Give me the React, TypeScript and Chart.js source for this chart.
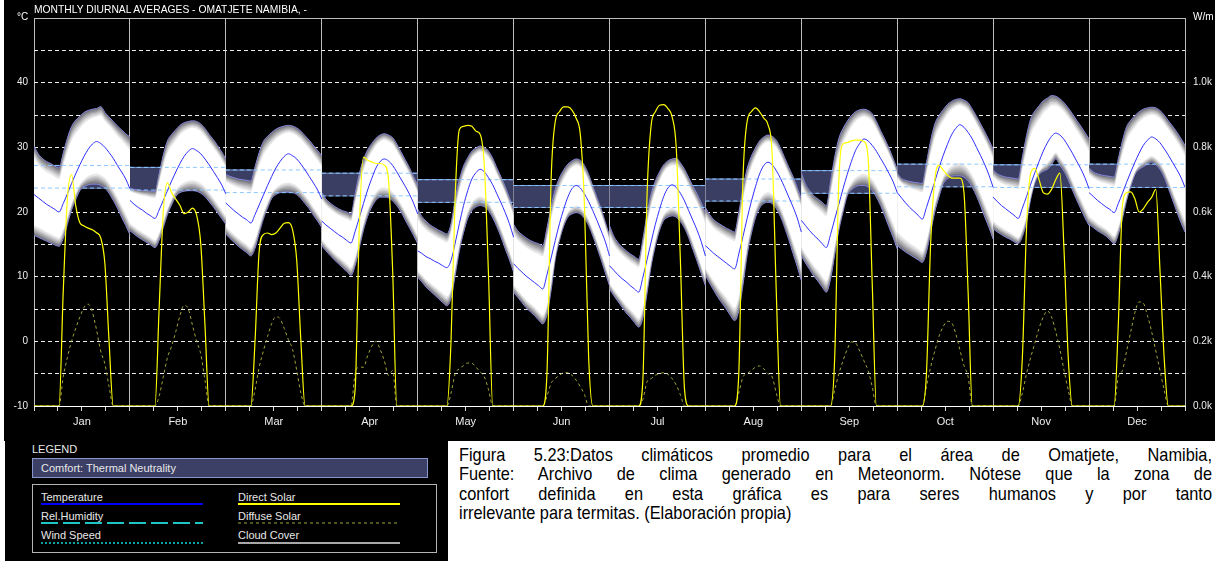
import React, { useEffect, useRef } from 'react';
import { Chart, registerables } from 'chart.js';

Chart.register(...registerables);

const MONTHS = ['Jan', 'Feb', 'Mar', 'Apr', 'May', 'Jun', 'Jul', 'Aug', 'Sep', 'Oct', 'Nov', 'Dec'];

// hourly mean temperature (°C), 24 values per month
const TEMP: number[][] = [
  [22.7, 22.2, 21.7, 21.2, 20.8, 20.4, 20.0, 21.3, 22.8, 24.4, 25.9, 27.3, 28.6, 29.7, 30.5, 30.9, 30.6, 30.0, 29.2, 28.3, 27.2, 26.2, 25.1, 23.6],
  [21.8, 21.2, 20.7, 20.3, 19.8, 19.4, 19.0, 20.3, 21.8, 23.3, 24.8, 26.2, 27.5, 28.6, 29.4, 29.8, 29.5, 29.0, 28.2, 27.3, 26.3, 25.3, 24.2, 22.8],
  [21.4, 20.8, 20.2, 19.7, 19.2, 18.8, 18.3, 19.6, 21.1, 22.6, 24.1, 25.5, 26.8, 27.8, 28.6, 29.0, 28.7, 28.2, 27.4, 26.5, 25.5, 24.5, 23.4, 22.0],
  [18.6, 18.0, 17.5, 17.0, 16.5, 16.1, 15.6, 15.2, 17.0, 19.1, 21.3, 23.4, 25.2, 26.8, 27.8, 28.2, 27.9, 27.2, 26.2, 25.1, 24.0, 22.8, 21.4, 19.7],
  [14.0, 13.6, 13.1, 12.8, 12.4, 12.1, 11.7, 11.4, 12.5, 15.2, 18.2, 21.0, 23.3, 25.1, 26.1, 26.6, 26.2, 25.3, 24.2, 22.8, 21.4, 19.9, 18.2, 16.1],
  [12.0, 11.3, 10.7, 10.1, 9.6, 9.1, 8.6, 8.1, 10.3, 12.9, 15.6, 18.2, 20.4, 22.3, 23.6, 24.1, 23.7, 22.8, 21.6, 20.2, 18.7, 17.1, 15.4, 13.2],
  [11.7, 11.0, 10.3, 9.7, 9.2, 8.6, 8.1, 7.6, 9.9, 12.6, 15.4, 18.1, 20.4, 22.4, 23.7, 24.2, 23.8, 22.9, 21.7, 20.2, 18.7, 17.2, 15.4, 13.2],
  [14.8, 14.2, 13.6, 13.1, 12.6, 12.1, 11.6, 11.2, 13.5, 16.2, 19.0, 21.6, 23.9, 25.9, 27.2, 27.7, 27.3, 26.4, 25.2, 23.8, 22.3, 20.8, 19.1, 16.9],
  [18.7, 17.9, 17.1, 16.4, 15.8, 15.1, 14.5, 16.5, 18.9, 21.2, 23.6, 25.8, 27.8, 29.5, 30.6, 31.3, 31.0, 30.3, 29.4, 28.3, 27.2, 26.0, 24.7, 23.0],
  [23.0, 22.2, 21.4, 20.7, 20.1, 19.5, 18.9, 20.7, 22.7, 24.7, 26.8, 28.7, 30.4, 31.9, 32.9, 33.5, 33.1, 32.3, 31.3, 30.0, 28.7, 27.3, 25.7, 23.8],
  [22.3, 21.6, 21.0, 20.5, 20.0, 19.5, 19.0, 20.6, 22.4, 24.3, 26.1, 27.8, 29.4, 30.7, 31.7, 32.2, 31.9, 31.2, 30.2, 29.1, 27.9, 26.7, 25.3, 23.6],
  [23.0, 22.4, 21.8, 21.3, 20.8, 20.4, 19.9, 21.3, 22.9, 24.6, 26.2, 27.7, 29.1, 30.3, 31.1, 31.6, 31.3, 30.7, 29.8, 28.8, 27.7, 26.6, 25.4, 23.8],
];

// upper edge of the shaded temperature range (°C)
const TEMP_MAX: number[][] = [
  [30.2, 29.0, 28.3, 27.8, 27.5, 27.1, 26.8, 29.1, 31.4, 33.2, 34.2, 34.8, 35.4, 35.7, 35.9, 36.0, 36.3, 35.4, 34.7, 34.0, 33.3, 32.7, 32.1, 31.6],
  [23.7, 23.5, 23.4, 23.3, 23.3, 23.2, 23.2, 25.9, 28.8, 31.0, 32.0, 32.7, 33.4, 33.8, 34.0, 34.1, 34.0, 33.6, 32.9, 32.0, 31.2, 30.3, 29.3, 28.2],
  [25.8, 25.5, 25.3, 25.1, 25.0, 24.9, 24.8, 27.0, 29.2, 30.9, 31.7, 32.3, 32.8, 33.1, 33.3, 33.4, 33.3, 33.0, 32.5, 31.8, 31.1, 30.3, 29.5, 28.7],
  [23.0, 22.0, 21.4, 20.9, 20.5, 20.2, 20.0, 19.7, 22.8, 25.9, 28.1, 29.6, 30.6, 31.4, 31.9, 32.1, 31.9, 31.5, 30.5, 29.3, 28.1, 26.9, 25.5, 24.1],
  [20.5, 19.3, 18.6, 18.0, 17.6, 17.2, 16.9, 16.6, 18.2, 22.0, 25.0, 27.1, 28.4, 29.4, 29.9, 30.2, 30.0, 29.4, 28.3, 26.8, 25.4, 23.9, 22.2, 20.5],
  [18.1, 17.1, 16.5, 16.0, 15.6, 15.3, 15.1, 14.8, 17.5, 20.8, 23.5, 25.3, 26.5, 27.4, 27.9, 28.2, 28.0, 27.2, 25.8, 24.0, 22.2, 20.5, 18.4, 16.3],
  [17.9, 16.3, 15.3, 14.6, 14.0, 13.5, 13.1, 12.7, 15.8, 19.7, 22.8, 24.8, 26.2, 27.3, 27.9, 28.2, 28.3, 27.6, 26.6, 25.3, 24.0, 22.8, 21.4, 19.9],
  [20.7, 19.6, 18.8, 18.3, 17.9, 17.5, 17.2, 16.9, 19.9, 23.6, 26.7, 28.6, 29.9, 31.0, 31.6, 31.9, 31.7, 31.1, 29.9, 28.4, 26.9, 25.5, 23.8, 22.0],
  [26.1, 24.3, 23.3, 22.5, 22.0, 21.5, 21.0, 24.7, 28.5, 31.4, 32.9, 34.0, 34.9, 35.5, 35.8, 35.9, 35.7, 35.2, 34.0, 32.6, 31.3, 29.9, 28.3, 26.6],
  [26.0, 25.2, 24.9, 24.7, 24.6, 24.5, 24.4, 27.6, 31.0, 33.6, 34.9, 35.8, 36.6, 37.1, 37.4, 37.5, 37.3, 36.9, 35.9, 34.8, 33.6, 32.4, 31.1, 29.7],
  [26.5, 25.9, 25.6, 25.4, 25.3, 25.2, 25.1, 28.5, 31.8, 34.4, 35.6, 36.4, 37.2, 37.6, 38.0, 37.9, 37.5, 36.9, 36.1, 35.2, 34.2, 33.3, 32.3, 31.3],
  [26.8, 26.2, 25.9, 25.7, 25.6, 25.5, 25.4, 28.2, 31.0, 33.2, 34.2, 34.9, 35.5, 35.9, 36.1, 36.2, 36.1, 35.7, 35.0, 34.1, 33.3, 32.4, 31.4, 30.3],
];

// lower edge of the shaded temperature range (°C)
const TEMP_MIN: number[][] = [
  [16.4, 16.1, 15.8, 15.5, 15.2, 14.9, 14.7, 15.9, 18.1, 20.3, 21.9, 23.3, 23.9, 24.2, 24.3, 24.3, 24.1, 23.7, 22.9, 21.8, 20.6, 19.2, 17.9, 16.5],
  [17.1, 16.6, 16.1, 15.7, 15.3, 14.9, 14.5, 15.6, 17.6, 19.6, 21.1, 22.4, 23.0, 23.2, 23.3, 23.3, 23.2, 22.9, 22.4, 21.6, 20.8, 19.9, 19.0, 18.1],
  [16.6, 15.9, 15.3, 14.7, 14.2, 13.7, 13.2, 14.4, 16.7, 18.9, 20.6, 22.1, 22.7, 23.0, 23.1, 23.1, 23.0, 22.7, 22.1, 21.3, 20.5, 19.5, 18.6, 17.6],
  [14.8, 14.0, 13.3, 12.6, 12.0, 11.4, 10.8, 10.2, 11.7, 14.4, 17.2, 19.3, 20.8, 21.8, 22.3, 22.3, 22.2, 21.7, 21.0, 20.0, 18.8, 17.6, 16.4, 15.1],
  [9.9, 9.2, 8.4, 7.8, 7.2, 6.6, 6.0, 5.5, 6.7, 10.2, 14.0, 16.8, 19.0, 20.2, 20.8, 21.0, 20.8, 20.2, 19.1, 17.7, 16.1, 14.3, 12.6, 10.7],
  [7.6, 6.8, 6.0, 5.2, 4.6, 4.0, 3.3, 2.7, 4.1, 7.9, 12.7, 15.6, 17.8, 19.2, 19.7, 19.9, 19.7, 19.0, 17.9, 16.3, 14.5, 12.6, 10.6, 8.6],
  [8.1, 7.1, 6.2, 5.3, 4.4, 3.7, 2.9, 2.2, 3.6, 7.4, 11.7, 14.8, 17.2, 18.7, 19.2, 19.4, 19.2, 18.5, 17.5, 16.0, 14.2, 12.4, 10.5, 8.6],
  [10.2, 9.0, 7.9, 6.8, 5.9, 5.0, 4.0, 3.2, 4.7, 8.7, 13.3, 16.6, 19.1, 20.6, 21.3, 21.5, 21.3, 20.5, 19.3, 17.6, 15.7, 13.6, 11.6, 9.4],
  [13.2, 12.1, 11.1, 10.1, 9.3, 8.4, 7.6, 9.6, 13.4, 17.2, 20.0, 22.5, 23.4, 23.9, 24.1, 24.1, 23.9, 23.3, 22.3, 21.0, 19.4, 17.7, 16.1, 14.3],
  [14.8, 14.3, 13.8, 13.4, 13.0, 12.6, 12.2, 13.8, 16.9, 20.0, 22.3, 24.3, 25.1, 25.5, 25.6, 25.6, 25.4, 24.8, 23.8, 22.5, 20.9, 19.2, 17.6, 15.8],
  [17.4, 16.9, 16.5, 16.1, 15.8, 15.4, 15.1, 16.2, 18.5, 22.0, 24.5, 25.8, 26.3, 26.6, 27.3, 28.2, 27.2, 26.3, 25.0, 23.4, 21.9, 20.5, 19.1, 17.9],
  [18.1, 17.6, 17.1, 16.7, 16.3, 15.7, 15.1, 16.5, 19.0, 21.8, 24.0, 25.8, 26.6, 27.0, 27.4, 27.7, 27.3, 26.6, 25.4, 23.7, 21.9, 20.1, 18.4, 16.9],
];

// comfort band (thermal neutrality), °C
const COMFORT_HIGH = [27.2, 26.9, 26.5, 26.0, 25.0, 24.1, 24.1, 25.1, 26.4, 27.4, 27.3, 27.4];
const COMFORT_LOW = [23.7, 23.4, 23.0, 22.5, 21.5, 20.7, 20.7, 21.7, 22.9, 23.9, 23.8, 23.8];

// direct solar radiation (W/m²), hourly
const DIRECT_SOLAR: number[][] = [
  [0, 0, 0, 0, 0, 0, 0, 350, 640, 716, 620, 567, 557, 550, 545, 536, 520, 440, 200, 0, 0, 0, 0, 0],
  [0, 0, 0, 0, 0, 0, 0, 300, 600, 690, 660, 640, 620, 595, 600, 612, 590, 500, 250, 0, 0, 0, 0, 0],
  [0, 0, 0, 0, 0, 0, 0, 200, 480, 530, 535, 530, 535, 550, 565, 567, 545, 450, 200, 0, 0, 0, 0, 0],
  [0, 0, 0, 0, 0, 0, 0, 0, 50, 550, 770, 760, 755, 750, 750, 745, 700, 420, 0, 0, 0, 0, 0, 0],
  [0, 0, 0, 0, 0, 0, 0, 0, 200, 650, 855, 865, 868, 865, 850, 840, 740, 400, 0, 0, 0, 0, 0, 0],
  [0, 0, 0, 0, 0, 0, 0, 0, 100, 700, 880, 910, 925, 925, 915, 890, 840, 620, 150, 0, 0, 0, 0, 0],
  [0, 0, 0, 0, 0, 0, 0, 0, 80, 650, 870, 910, 930, 932, 920, 895, 800, 450, 50, 0, 0, 0, 0, 0],
  [0, 0, 0, 0, 0, 0, 0, 0, 100, 700, 880, 910, 922, 910, 890, 870, 780, 350, 0, 0, 0, 0, 0, 0],
  [0, 0, 0, 0, 0, 0, 0, 0, 150, 700, 810, 815, 820, 822, 822, 818, 770, 380, 0, 0, 0, 0, 0, 0],
  [0, 0, 0, 0, 0, 0, 0, 100, 500, 700, 745, 730, 715, 705, 705, 705, 660, 350, 0, 0, 0, 0, 0, 0],
  [0, 0, 0, 0, 0, 0, 0, 150, 550, 720, 735, 700, 660, 655, 670, 700, 720, 480, 150, 0, 0, 0, 0, 0],
  [0, 0, 0, 0, 0, 0, 0, 250, 620, 660, 662, 640, 600, 610, 630, 645, 670, 420, 150, 0, 0, 0, 0, 0],
];

// diffuse solar radiation (W/m²), hourly
const DIFFUSE_SOLAR: number[][] = [
  [0, 0, 0, 0, 0, 0, 0, 90, 150, 200, 240, 275, 305, 315, 290, 235, 170, 130, 60, 0, 0, 0, 0, 0],
  [0, 0, 0, 0, 0, 0, 0, 30, 90, 150, 185, 230, 280, 312, 300, 250, 200, 160, 80, 0, 0, 0, 0, 0],
  [0, 0, 0, 0, 0, 0, 0, 50, 120, 170, 215, 255, 276, 270, 240, 205, 175, 110, 40, 0, 0, 0, 0, 0],
  [0, 0, 0, 0, 0, 0, 0, 0, 100, 120, 120, 155, 185, 200, 175, 140, 95, 110, 0, 0, 0, 0, 0, 0],
  [0, 0, 0, 0, 0, 0, 0, 0, 40, 100, 115, 125, 133, 132, 120, 105, 90, 50, 0, 0, 0, 0, 0, 0],
  [0, 0, 0, 0, 0, 0, 0, 0, 30, 70, 85, 95, 103, 103, 95, 80, 60, 35, 0, 0, 0, 0, 0, 0],
  [0, 0, 0, 0, 0, 0, 0, 0, 20, 75, 85, 95, 100, 103, 98, 85, 65, 35, 0, 0, 0, 0, 0, 0],
  [0, 0, 0, 0, 0, 0, 0, 0, 40, 90, 100, 110, 120, 124, 115, 100, 90, 40, 0, 0, 0, 0, 0, 0],
  [0, 0, 0, 0, 0, 0, 0, 0, 50, 100, 140, 175, 198, 195, 170, 140, 110, 60, 0, 0, 0, 0, 0, 0],
  [0, 0, 0, 0, 0, 0, 0, 60, 120, 170, 215, 245, 262, 258, 225, 175, 125, 90, 0, 0, 0, 0, 0, 0],
  [0, 0, 0, 0, 0, 0, 0, 40, 100, 150, 195, 240, 275, 294, 275, 230, 175, 110, 50, 0, 0, 0, 0, 0],
  [0, 0, 0, 0, 0, 0, 0, 90, 110, 170, 230, 290, 322, 318, 280, 230, 170, 110, 50, 0, 0, 0, 0, 0],
];

const TEMP_GRID = [-10, -5, 0, 5, 10, 15, 20, 25, 30, 35, 40, 45, 50];
const TEMP_LABELS = [-10, 0, 10, 20, 30, 40];
const SOLAR_GRID = [0, 100, 200, 300, 400, 500, 600, 700, 800, 900, 1000, 1100, 1200];
const SOLAR_LABELS = [0, 200, 400, 600, 800, 1000];
const HOUR_TICKS = Array.from({ length: 49 }, (_, i) => i * 6);

const FONT = "'Liberation Sans', Arial, sans-serif";

// shading of the temperature range: inset fraction toward the mean and fill colour
const BAND_SHADES = [
  { inset: 0, color: '#74747c' },
  { inset: 0.04, color: '#8c8c92' },
  { inset: 0.08, color: '#a4a4a8' },
  { inset: 0.12, color: '#bcbcbf' },
  { inset: 0.16, color: '#d3d3d5' },
  { inset: 0.2, color: '#e8e8e9' },
  { inset: 0.25, color: '#ffffff' },
];

const hourX = (m: number, h: number) => m * 24 + (h * 24) / 23;

function buildDatasets() {
  const ds: any[] = [];
  const base = { type: 'line', pointRadius: 0, pointHoverRadius: 0, yAxisID: 'y', fill: false };
  for (let m = 0; m < 12; m++) {
    const xs = TEMP[m].map((_, h) => hourX(m, h));
    // comfort zone rectangle
    ds.push({
      ...base,
      data: [{ x: m * 24, y: COMFORT_HIGH[m] }, { x: m * 24 + 24, y: COMFORT_HIGH[m] }],
      borderColor: '#7e9ede', borderWidth: 1, backgroundColor: '#3b3e63', fill: '+1', order: 100,
    });
    ds.push({
      ...base,
      data: [{ x: m * 24, y: COMFORT_LOW[m] }, { x: m * 24 + 24, y: COMFORT_LOW[m] }],
      borderColor: '#7e9ede', borderWidth: 1, order: 100,
    });
    // shaded temperature range
    BAND_SHADES.forEach((s, k) => {
      ds.push({
        ...base,
        data: TEMP_MAX[m].map((v, h) => ({ x: xs[h], y: v - s.inset * (v - TEMP[m][h]) })),
        borderWidth: 0, borderColor: 'rgba(0,0,0,0)', backgroundColor: s.color, fill: '+1',
        cubicInterpolationMode: 'monotone', order: 90 - k,
      });
      ds.push({
        ...base,
        data: TEMP_MIN[m].map((v, h) => ({ x: xs[h], y: v + s.inset * (TEMP[m][h] - v) })),
        borderWidth: 0, borderColor: 'rgba(0,0,0,0)', cubicInterpolationMode: 'monotone', order: 90 - k,
      });
    });
    ds.push({
      ...base,
      data: TEMP_MAX[m].map((v, h) => ({ x: xs[h], y: v })),
      borderColor: '#8585dc', borderWidth: 1, cubicInterpolationMode: 'monotone', order: 89.5,
    });
    ds.push({
      ...base,
      data: TEMP_MIN[m].map((v, h) => ({ x: xs[h], y: v })),
      borderColor: '#8585dc', borderWidth: 1, cubicInterpolationMode: 'monotone', order: 89.5,
    });
    // comfort limits dashed on top
    ds.push({
      ...base,
      data: [{ x: m * 24, y: COMFORT_HIGH[m] }, { x: m * 24 + 24, y: COMFORT_HIGH[m] }],
      borderColor: '#8cc6ff', borderWidth: 1, borderDash: [4, 3], order: 50,
    });
    ds.push({
      ...base,
      data: [{ x: m * 24, y: COMFORT_LOW[m] }, { x: m * 24 + 24, y: COMFORT_LOW[m] }],
      borderColor: '#8cc6ff', borderWidth: 1, borderDash: [4, 3], order: 50,
    });
    // mean temperature
    ds.push({
      ...base,
      data: TEMP[m].map((v, h) => ({ x: xs[h], y: v })),
      borderColor: '#2f2fff', borderWidth: 1, cubicInterpolationMode: 'monotone', order: 40,
    });
    // diffuse solar
    ds.push({
      ...base,
      yAxisID: 'yR',
      data: DIFFUSE_SOLAR[m].map((v, h) => ({ x: xs[h], y: v })),
      borderColor: '#a3a33a', borderWidth: 1, borderDash: [3, 3], cubicInterpolationMode: 'monotone', order: 30,
    });
    // direct solar
    ds.push({
      ...base,
      yAxisID: 'yR',
      data: DIRECT_SOLAR[m].map((v, h) => ({ x: xs[h], y: v })),
      borderColor: '#ffff00', borderWidth: 1.2, cubicInterpolationMode: 'monotone', order: 20,
    });
  }
  return ds;
}

function LegendLine({ x, y, color, dash, width = 2 }: { x: number; y: number; color: string; dash?: string; width?: number }) {
  return (
    <svg style={{ position: 'absolute', left: x, top: y - 2, overflow: 'visible' }} width={162} height={4}>
      <line x1={0} y1={2} x2={162} y2={2} stroke={color} strokeWidth={width} strokeDasharray={dash} />
    </svg>
  );
}

const legendText: React.CSSProperties = {
  position: 'absolute', color: '#e8e8e8', fontSize: 11, lineHeight: '12px', whiteSpace: 'nowrap', fontFamily: FONT,
};

const CAPTION_LINES = [
  'Figura 5.23:Datos climáticos promedio para el área de Omatjete, Namibia,',
  'Fuente: Archivo de clima generado en Meteonorm. Nótese que la zona de',
  'confort definida en esta gráfica es para seres humanos y por tanto',
  'irrelevante para termitas. (Elaboración propia)',
];
const CAPTION_SCALE = 0.86;

export default function App() {
  const ref = useRef<HTMLCanvasElement>(null);
  useEffect(() => {
    if (!ref.current) return;
    const chart = new Chart(ref.current, {
      type: 'line',
      data: { datasets: buildDatasets() as any },
      options: {
        animation: false,
        responsive: false,
        maintainAspectRatio: false,
        layout: { padding: { top: 18, left: 0, right: 0, bottom: 0 } },
        plugins: { legend: { display: false }, tooltip: { enabled: false }, title: { display: false } },
        events: [],
        scales: {
          x: {
            type: 'linear', position: 'bottom', min: 0, max: 288,
            afterBuildTicks: (s: any) => { s.ticks = HOUR_TICKS.map((v) => ({ value: v })); },
            afterFit: (s: any) => { s.height = 35; },
            ticks: {
              autoSkip: false, maxRotation: 0, minRotation: 0, color: '#eeeeee', padding: 4,
              font: { family: FONT, size: 11 },
              callback: (v: any) => (Number(v) % 24 === 12 ? MONTHS[(Number(v) - 12) / 24] : ''),
            },
            grid: {
              color: (c: any) => (c.tick && c.tick.value % 24 === 0 ? '#bcbcbc' : 'rgba(0,0,0,0)'),
              tickColor: '#d8d8d8', tickLength: 5, lineWidth: 1, drawTicks: true,
            },
            border: { display: true, color: '#ffffff', width: 1 },
          },
          xTop: {
            type: 'linear', position: 'top', min: 0, max: 288,
            afterFit: (s: any) => { s.height = 0; },
            ticks: { display: false },
            grid: { display: false, drawTicks: false },
            border: { display: true, color: '#bcbcbc', width: 1 },
          },
          y: {
            type: 'linear', position: 'left', min: -10, max: 50,
            afterBuildTicks: (s: any) => { s.ticks = TEMP_GRID.map((v) => ({ value: v })); },
            afterFit: (s: any) => { s.width = 30; },
            ticks: {
              autoSkip: false, color: '#eeeeee', padding: 6, font: { family: FONT, size: 10 },
              callback: (v: any) => (TEMP_LABELS.includes(Number(v)) ? String(v) : ''),
            },
            grid: {
              color: (c: any) => (c.tick && (c.tick.value === -10 || c.tick.value === 50) ? 'rgba(0,0,0,0)' : '#ececec'),
              drawTicks: false, lineWidth: 1,
            },
            border: { display: false, dash: [4, 3] },
          },
          yR: {
            type: 'linear', position: 'right', min: 0, max: 1200,
            afterBuildTicks: (s: any) => { s.ticks = SOLAR_GRID.map((v) => ({ value: v })); },
            afterFit: (s: any) => { s.width = 30; },
            ticks: {
              autoSkip: false, color: '#eeeeee', padding: 8, font: { family: FONT, size: 10 },
              callback: (v: any) => (SOLAR_LABELS.includes(Number(v)) ? (Number(v) / 1000).toFixed(1) + 'k' : ''),
            },
            grid: { display: false, drawTicks: false },
            border: { display: false },
          },
        },
      } as any,
    });
    return () => chart.destroy();
  }, []);

  return (
    <div style={{ position: 'absolute', left: 0, top: 0, width: 1215, height: 561, background: '#ffffff', overflow: 'hidden', fontFamily: FONT }}>
      <div style={{ position: 'absolute', left: 4, top: 0, width: 1211, height: 441, background: '#000000' }}>
        <canvas ref={ref} width={1211} height={441} style={{ display: 'block', width: 1211, height: 441 }} />
      </div>
      <div style={{ position: 'absolute', left: 34, top: 4, color: '#ffffff', fontSize: 10.3, lineHeight: '12px', whiteSpace: 'nowrap' }}>
        MONTHLY DIURNAL AVERAGES - OMATJETE NAMIBIA, -
      </div>
      <div style={{ position: 'absolute', left: 17, top: 11, color: '#ffffff', fontSize: 10, lineHeight: '12px' }}>°C</div>
      <div style={{ position: 'absolute', left: 1193, top: 11, color: '#ffffff', fontSize: 10, lineHeight: '12px', whiteSpace: 'nowrap' }}>W/m</div>

      {/* legend */}
      <div style={{ position: 'absolute', left: 5, top: 441, width: 443, height: 120, background: '#000000' }} />
      <div style={{ ...legendText, left: 32, top: 443 }}>LEGEND</div>
      <div style={{ position: 'absolute', left: 32, top: 458, width: 394, height: 18, background: '#3c3f66', border: '1px solid #8797cc' }} />
      <div style={{ ...legendText, left: 41, top: 462 }}>Comfort: Thermal Neutrality</div>
      <div style={{ position: 'absolute', left: 32, top: 484, width: 403, height: 67, border: '1px solid #b4b4b4' }} />
      <div style={{ ...legendText, left: 41, top: 491 }}>Temperature</div>
      <LegendLine x={41} y={504} color="#0000ff" />
      <div style={{ ...legendText, left: 41, top: 510 }}>Rel.Humidity</div>
      <LegendLine x={41} y={523} color="#1fc4c4" dash="17 5" />
      <div style={{ ...legendText, left: 41, top: 529 }}>Wind Speed</div>
      <LegendLine x={41} y={543} color="#0fa0a0" dash="2 2" />
      <div style={{ ...legendText, left: 238, top: 491 }}>Direct Solar</div>
      <LegendLine x={238} y={504} color="#ffff00" />
      <div style={{ ...legendText, left: 238, top: 510 }}>Diffuse Solar</div>
      <LegendLine x={238} y={523} color="#a3a33a" dash="3 3" width={1} />
      <div style={{ ...legendText, left: 238, top: 529 }}>Cloud Cover</div>
      <LegendLine x={238} y={543} color="#a8a8a8" />

      {/* caption */}
      <div
        style={{
          position: 'absolute', left: 459, top: 445, width: 753 / CAPTION_SCALE, color: '#000000',
          fontFamily: FONT, fontSize: 19, lineHeight: '19.3px',
          transform: `scaleX(${CAPTION_SCALE})`, transformOrigin: '0 0',
        }}
      >
        {CAPTION_LINES.map((t, i) => (
          <div key={i} style={{ whiteSpace: 'nowrap', textAlign: 'justify', textAlignLast: i < CAPTION_LINES.length - 1 ? 'justify' : 'left' } as React.CSSProperties}>{t}</div>
        ))}
      </div>
    </div>
  );
}
